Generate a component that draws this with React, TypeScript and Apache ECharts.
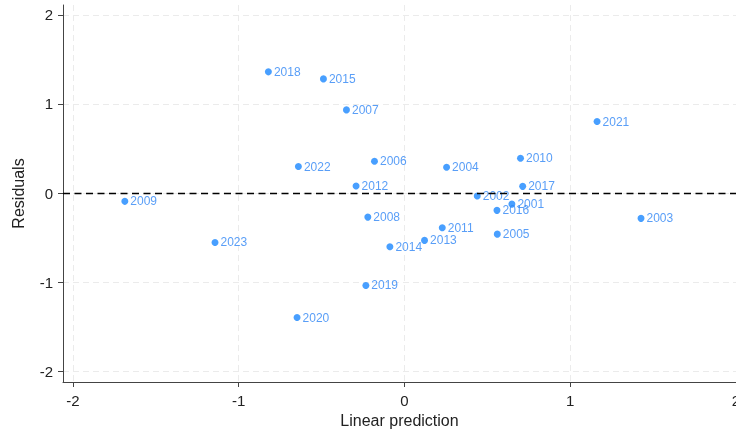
import React, { useEffect, useRef } from "react";
import * as echarts from "echarts";

const years = ["2001","2002","2003","2004","2005","2006","2007","2008","2009","2010","2011","2012","2013","2014","2015","2016","2017","2018","2019","2020","2021","2022","2023"];
const linearPrediction = [0.648,0.439,1.427,0.254,0.560,-0.181,-0.350,-0.221,-1.687,0.700,0.228,-0.292,0.121,-0.088,-0.489,0.558,0.713,-0.821,-0.233,-0.648,1.162,-0.640,-1.143];
const residuals = [-0.124,-0.034,-0.284,0.289,-0.461,0.356,0.933,-0.270,-0.093,0.390,-0.389,0.079,-0.531,-0.603,1.281,-0.194,0.075,1.360,-1.037,-1.397,0.802,0.297,-0.554];
const tickValues = [-2, -1, 0, 1, 2];

const FONT = 'Arial, "Liberation Sans", sans-serif';
const BLUE = "#1a87ff";

export default function App() {
  const ref = useRef<HTMLDivElement>(null);
  useEffect(() => {
    if (!ref.current) return;
    const chart = echarts.init(ref.current, undefined, { renderer: "svg" });
    const data = years.map((y, i) => [linearPrediction[i], residuals[i], y]);
    chart.setOption({
      animation: false,
      textStyle: { fontFamily: FONT },
      grid: { left: 63, right: 0, top: 5, bottom: 51, containLabel: false, outerBoundsMode: "none" },
      xAxis: {
        type: "value",
        min: -2.06,
        max: 2.0,
        name: "Linear prediction",
        nameLocation: "middle",
        nameGap: 30,
        nameTextStyle: { fontSize: 16, color: "#222", fontFamily: FONT },
        axisLine: { show: true, onZero: false, lineStyle: { color: "#444", width: 1 } },
        axisTick: { show: true, length: 5, customValues: tickValues, lineStyle: { color: "#444" } },
        axisLabel: { customValues: tickValues, margin: 11, fontSize: 15, color: "#222", fontFamily: FONT, formatter: (v: number) => String(v) },
        splitLine: { show: true, lineStyle: { color: "#ebebeb", type: [6, 4], width: 1 } },
      },
      yAxis: {
        type: "value",
        min: -2.12,
        max: 2.11,
        name: "Residuals",
        nameLocation: "middle",
        nameGap: 37,
        nameTextStyle: { fontSize: 16, color: "#222", fontFamily: FONT },
        axisLine: { show: true, onZero: false, lineStyle: { color: "#444", width: 1 } },
        axisTick: { show: true, length: 5, customValues: tickValues, lineStyle: { color: "#444" } },
        axisLabel: { customValues: tickValues, margin: 10, fontSize: 15, color: "#222", fontFamily: FONT, formatter: (v: number) => String(v) },
        splitLine: { show: true, lineStyle: { color: "#ebebeb", type: [6, 4], width: 1 } },
      },
      series: [
        {
          type: "scatter",
          data,
          symbol: "circle",
          symbolSize: 7,
          itemStyle: { color: BLUE },
          label: {
            show: true,
            position: "right",
            distance: 2,
            formatter: (p: any) => p.data[2],
            fontSize: 12,
            color: "#2f86f5",
            fontFamily: FONT,
          },
          markLine: {
            silent: true,
            symbol: "none",
            label: { show: false },
            lineStyle: { color: "#000", type: [7, 4.5], width: 1.4 },
            data: [{ yAxis: 0 }],
          },
          z: 3,
        },
      ],
    });
    return () => chart.dispose();
  }, []);
  return <div ref={ref} style={{ position: "fixed", left: 0, top: 0, width: 736, height: 433 }} />;
}
